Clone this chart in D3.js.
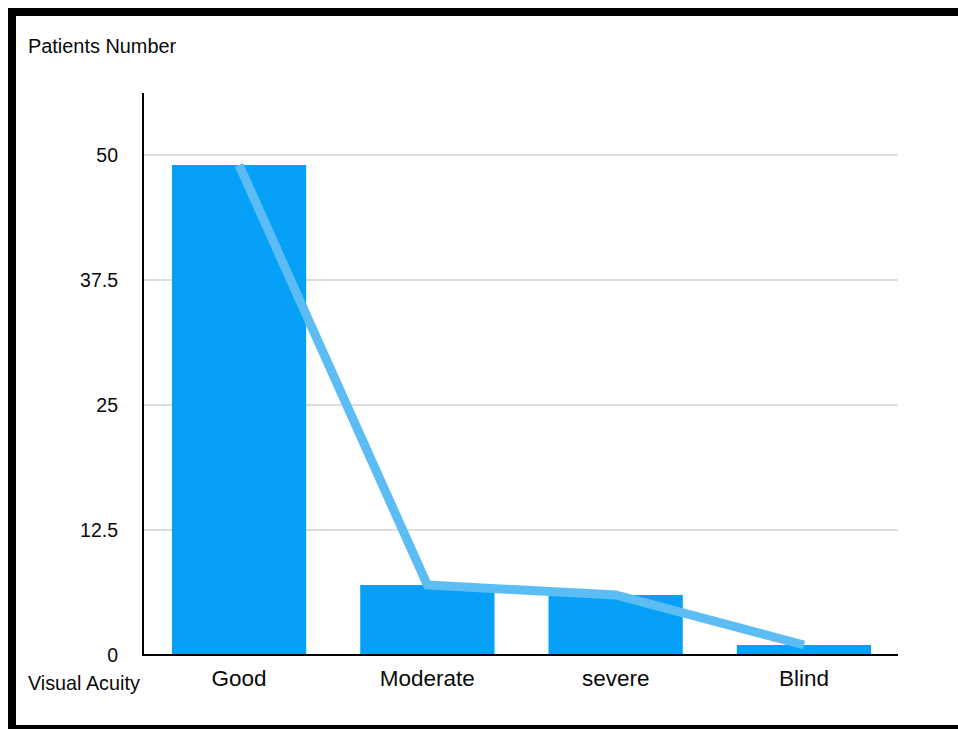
<!DOCTYPE html>
<html>
<head>
<meta charset="utf-8">
<script src="https://cdn.jsdelivr.net/npm/d3@7"></script>
<style>
  html, body { margin: 0; padding: 0; background: #fff; }
  svg { display: block; }
  text { font-family: "Liberation Sans", Arial, Helvetica, sans-serif; fill: #0a0a0a; }
</style>
</head>
<body>
<svg id="chart" width="958" height="729"></svg>
<script>
// Visual acuity outcome counts
const categories = ["Good", "Moderate", "severe", "Blind"];
const patients = [49, 7, 6, 1];
const tickValues = [0, 12.5, 25, 37.5, 50];
const yTitle = "Patients Number";
const xTitle = "Visual Acuity";

const svg = d3.select("#chart");
const W = 958, H = 729;

// Outer frame
svg.append("rect").attr("x", 0).attr("y", 0).attr("width", W).attr("height", H).attr("fill", "#fff");
svg.append("rect")
  .attr("x", 12).attr("y", 12).attr("width", W).attr("height", 717)
  .attr("fill", "none").attr("stroke", "#000").attr("stroke-width", 8);

const plot = { left: 143, right: 898, top: 93, bottom: 655 };

const x = d3.scaleBand()
  .domain(categories)
  .range([145, plot.right])
  .paddingInner(0.287)
  .paddingOuter(0.143);

const y = d3.scaleLinear()
  .domain([0, 50])
  .range([plot.bottom, 155]);

// Horizontal gridlines
svg.append("g")
  .selectAll("line")
  .data(tickValues.filter(d => d > 0))
  .join("line")
  .attr("x1", plot.left).attr("x2", plot.right)
  .attr("y1", d => y(d)).attr("y2", d => y(d))
  .attr("stroke", "#d2d2d2").attr("stroke-width", 1.5);

// Bars
svg.append("g")
  .selectAll("rect")
  .data(categories.map((c, i) => ({ c, v: patients[i] })))
  .join("rect")
  .attr("x", d => x(d.c))
  .attr("width", x.bandwidth())
  .attr("y", d => y(d.v))
  .attr("height", d => y(0) - y(d.v))
  .attr("fill", "#07a0f7");

// Trend line over the bars
const line = d3.line()
  .x((d, i) => x(categories[i]) + x.bandwidth() / 2)
  .y(d => y(d));
svg.append("path")
  .datum(patients)
  .attr("d", line)
  .attr("fill", "none")
  .attr("stroke", "#5bbdf4")
  .attr("stroke-width", 9)
  .attr("stroke-linejoin", "miter")
  .attr("stroke-linecap", "butt");

// Axis lines
svg.append("line")
  .attr("x1", plot.left).attr("x2", plot.left)
  .attr("y1", plot.top).attr("y2", plot.bottom + 1)
  .attr("stroke", "#000").attr("stroke-width", 2);
svg.append("line")
  .attr("x1", plot.left - 1).attr("x2", plot.right)
  .attr("y1", plot.bottom).attr("y2", plot.bottom)
  .attr("stroke", "#000").attr("stroke-width", 2);

// Y tick labels
svg.append("g")
  .selectAll("text")
  .data(tickValues)
  .join("text")
  .attr("x", 118)
  .attr("y", d => y(d))
  .attr("dy", "0.35em")
  .attr("text-anchor", "end")
  .attr("font-size", 19.5)
  .text(d => d3.format("~g")(d));

// Category labels
svg.append("g")
  .selectAll("text")
  .data(categories)
  .join("text")
  .attr("x", d => x(d) + x.bandwidth() / 2)
  .attr("y", 686)
  .attr("text-anchor", "middle")
  .attr("font-size", 22.5)
  .text(d => d);

// Axis titles
svg.append("text")
  .attr("x", 28).attr("y", 53)
  .attr("font-size", 19.9)
  .text(yTitle);
svg.append("text")
  .attr("x", 28).attr("y", 690)
  .attr("font-size", 19.8)
  .text(xTitle);
</script>
</body>
</html>
